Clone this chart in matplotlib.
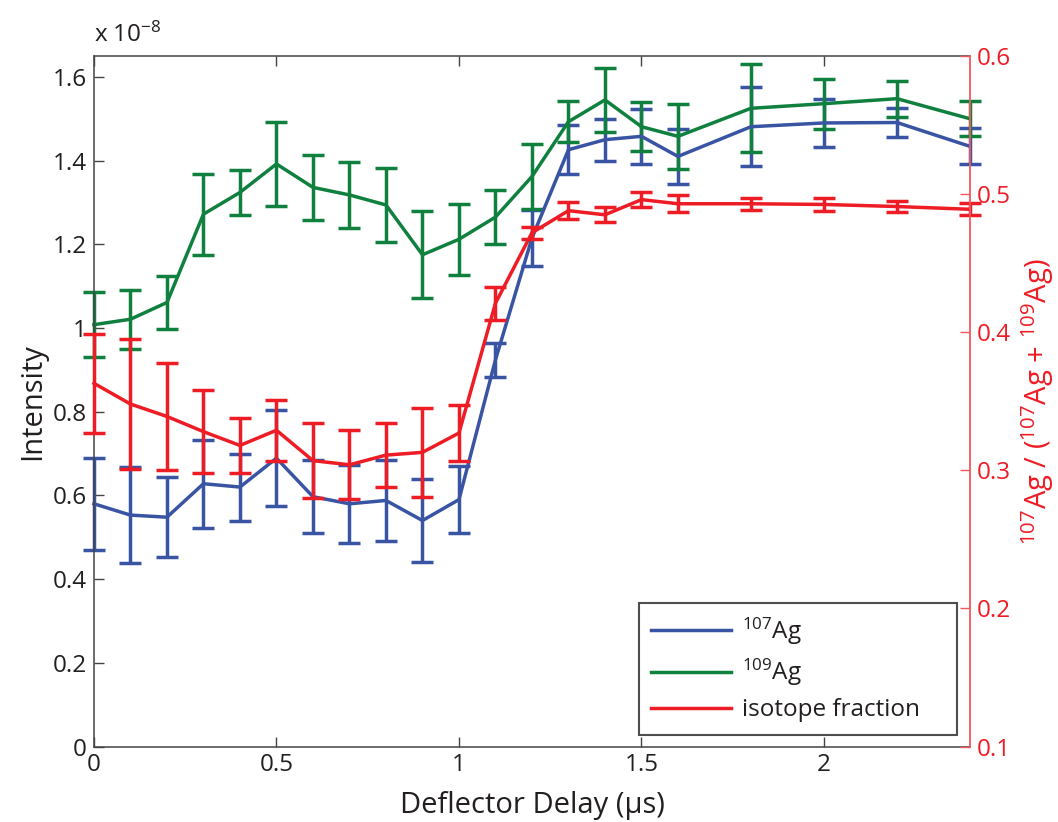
import matplotlib
matplotlib.use("Agg")
import matplotlib.pyplot as plt
from matplotlib.ticker import FormatStrFormatter
import numpy as np

# ── Data ────────────────────────────────────────────────────
delay = [0.0, 0.1, 0.2, 0.3, 0.4, 0.5, 0.6, 0.7, 0.8, 0.9, 1.0, 1.1, 1.2,
         1.3, 1.4, 1.5, 1.6, 1.8, 2.0, 2.2, 2.4]

# intensities in units of 1e-8
ag107 = [0.580, 0.553, 0.548, 0.628, 0.620, 0.689, 0.597, 0.580, 0.588, 0.540,
         0.590, 0.924, 1.215, 1.426, 1.450, 1.458, 1.410, 1.481, 1.490, 1.491,
         1.434]
ag107_err = [0.110, 0.115, 0.095, 0.105, 0.080, 0.115, 0.087, 0.093, 0.097,
             0.100, 0.080, 0.040, 0.066, 0.058, 0.050, 0.066, 0.065, 0.095,
             0.057, 0.034, 0.043]

ag109 = [1.008, 1.021, 1.061, 1.272, 1.324, 1.392, 1.336, 1.318, 1.294, 1.175,
         1.212, 1.265, 1.362, 1.493, 1.545, 1.481, 1.458, 1.525, 1.536, 1.548,
         1.500]
ag109_err = [0.078, 0.070, 0.064, 0.097, 0.053, 0.100, 0.078, 0.079, 0.089,
             0.104, 0.085, 0.064, 0.078, 0.049, 0.077, 0.058, 0.078, 0.105,
             0.060, 0.043, 0.042]

fraction = [0.363, 0.348, 0.339, 0.328, 0.318, 0.329, 0.307, 0.304, 0.311,
            0.313, 0.327, 0.421, 0.472, 0.488, 0.485, 0.496, 0.493, 0.493,
            0.4925, 0.491, 0.489]
fraction_err = [0.036, 0.047, 0.039, 0.030, 0.020, 0.022, 0.027, 0.025, 0.023,
                0.032, 0.020, 0.012, 0.0045, 0.006, 0.0055, 0.0055, 0.006,
                0.0045, 0.0045, 0.0043, 0.0045]

# ── Style ───────────────────────────────────────────────────
FONT = "Open Sans"
plt.rcParams["font.family"] = [FONT, "DejaVu Sans"]
plt.rcParams["mathtext.fontset"] = "custom"
plt.rcParams["mathtext.rm"] = FONT
plt.rcParams["mathtext.it"] = FONT
plt.rcParams["mathtext.bf"] = FONT

BLUE = "#3A54A4"
GREEN = "#10803F"
RED = "#EE1C25"
SPINE_RED = "#F0585E"
TXT = "#231F20"
TICK_FS = 17.5
LABEL_FS = 21

fig = plt.figure(figsize=(10.58, 8.22), dpi=100)
ax = fig.add_axes([0.0888, 0.0918, 0.8280, 0.8401])
ax2 = ax.twinx()

eb_kw = dict(lw=2.5, elinewidth=2.5, capsize=8, capthick=2.5)
h1 = ax.errorbar(delay, ag107, yerr=ag107_err, color=BLUE, **eb_kw)
h2 = ax.errorbar(delay, ag109, yerr=ag109_err, color=GREEN, **eb_kw)
h3 = ax2.errorbar(delay, fraction, yerr=fraction_err, color=RED, **eb_kw)
for h in (h1, h2, h3):
    h[0].set_clip_on(False)
    for artist in list(h[1]) + list(h[2]):
        artist.set_clip_on(False)

# left axis
ax.set_xlim(0, 2.4)
ax.set_ylim(0, 1.65)
ax.set_xticks([0, 0.5, 1, 1.5, 2])
ax.set_yticks(np.arange(0, 1.61, 0.2))
ax.xaxis.set_major_formatter(FormatStrFormatter("%g"))
ax.yaxis.set_major_formatter(FormatStrFormatter("%g"))
ax.tick_params(direction="in", length=7, width=1, colors="#444444",
               labelcolor=TXT, labelsize=TICK_FS, top=True, right=False, pad=5)
ax.spines["right"].set_visible(False)
for s in ("left", "bottom", "top"):
    ax.spines[s].set_color("#444444")
    ax.spines[s].set_linewidth(1.1)
ax.set_ylabel("Intensity", fontsize=LABEL_FS, color=TXT, labelpad=4)
ax.set_xlabel("Deflector Delay (μs)", fontsize=LABEL_FS, color=TXT, labelpad=10)
ax.text(0.0, 1.012, r"x 10$^{-8}$", transform=ax.transAxes, fontsize=TICK_FS,
        color=TXT, ha="left", va="bottom")

# right axis
ax2.set_ylim(0.1, 0.6)
ax2.set_yticks([0.1, 0.2, 0.3, 0.4, 0.5, 0.6])
ax2.yaxis.set_major_formatter(FormatStrFormatter("%g"))
ax2.tick_params(direction="in", length=7, width=1, colors=SPINE_RED,
                labelcolor=RED, labelsize=TICK_FS, pad=5)
for s in ("left", "bottom", "top"):
    ax2.spines[s].set_visible(False)
ax2.spines["right"].set_color(SPINE_RED)
ax2.spines["right"].set_linewidth(1.3)
ax2.set_ylabel(r"$^{107}$Ag / ($^{107}$Ag + $^{109}$Ag)", fontsize=LABEL_FS,
               color=RED, labelpad=6)

# legend box stretched to a fixed width inside the lower right corner
leg = ax2.legend([h1[0], h2[0], h3[0]],
                 [r"$^{107}$Ag", r"$^{109}$Ag", "isotope fraction"],
                 loc="lower left", bbox_to_anchor=(0.622, 0.0174, 0.363, 0.18),
                 mode="expand", fontsize=TICK_FS, frameon=True, fancybox=False,
                 handlelength=3.3, handletextpad=0.45, borderpad=0.5,
                 labelspacing=0.42, borderaxespad=0)
leg.get_frame().set_edgecolor("#222222")
leg.get_frame().set_linewidth(1.5)
for t in leg.get_texts():
    t.set_color(TXT)

fig.savefig("out.png", dpi=100, facecolor="white")
